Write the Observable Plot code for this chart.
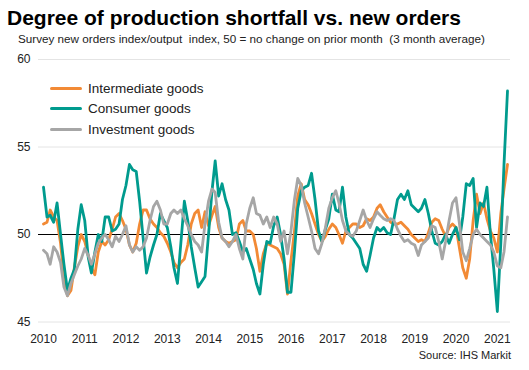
<!DOCTYPE html>
<html><head><meta charset="utf-8">
<script src="https://cdn.jsdelivr.net/npm/d3@7"></script>
<script src="https://cdn.jsdelivr.net/npm/@observablehq/plot@0.6"></script>
<style>
body{margin:0;background:#fff;font-family:"Liberation Sans",Arial,sans-serif;}
#wrap{position:relative;width:529px;height:370px;overflow:hidden;background:#fff;}
#chart{position:absolute;left:0;top:0;}
.title{position:absolute;left:7px;top:7px;font-size:21px;line-height:1;font-weight:bold;color:#000;white-space:nowrap;}
.subtitle{position:absolute;left:18px;top:32.5px;font-size:11.7px;line-height:1;color:#222;white-space:nowrap;}
.legend{position:absolute;left:50px;top:78px;}
.legend .row{display:flex;align-items:center;height:20.5px;font-size:13.5px;color:#222;white-space:nowrap;}
.legend .sw{width:32px;height:3px;margin-right:6px;border-radius:1.5px;}
.source{position:absolute;right:18px;top:350px;font-size:11px;line-height:1;color:#222;white-space:nowrap;}
</style></head>
<body>
<div id="wrap">
  <div id="chart"></div>
  <div class="title">Degree of production shortfall vs. new orders</div>
  <div class="subtitle">Survey new orders index/output&nbsp; index, 50 = no change on prior month&nbsp; (3 month average)</div>
  <div class="legend" id="legend"></div>
  <div class="source">Source: IHS Markit</div>
</div>
<script>
const seriesNames = ["Intermediate goods", "Consumer goods", "Investment goods"];
const seriesColors = ["#F28A35", "#009B8E", "#A6A6A6"];
const yTicks = [45, 50, 55, 60];
const yearLabels = [2010,2011,2012,2013,2014,2015,2016,2017,2018,2019,2020,2021];

// Monthly, Jan 2010 – Apr 2021
const intermediate = [
 50.6,50.7,51.4,51.0,50.8,49.5,47.6,46.5,46.8,48.1,
 49.3,50.0,49.6,48.8,48.1,47.7,49.0,49.6,49.4,49.7,
 50.3,51.0,51.2,50.8,50.3,49.4,49.0,49.5,50.6,51.4,
 51.4,50.9,50.6,50.4,50.1,49.9,49.5,49.0,48.4,48.1,
 48.4,48.6,49.4,50.6,51.2,51.4,50.4,51.3,50.5,51.1,
 51.6,50.4,49.8,49.6,49.5,49.6,49.7,50.6,50.8,50.2,
 50.2,50.0,49.2,47.9,48.9,49.5,49.4,49.3,49.2,48.9,
 48.3,46.6,48.5,50.2,52.2,52.9,52.0,51.7,51.2,50.6,
 50.0,49.6,49.9,50.3,50.6,50.4,50.0,49.5,50.2,50.4,
 50.6,50.6,50.4,50.5,50.9,50.8,51.0,51.5,51.7,51.3,
 51.0,50.7,50.6,50.6,50.7,50.5,50.3,50.0,49.8,49.6,
 49.7,49.6,50.1,50.7,50.9,50.8,50.3,49.9,50.4,50.6,
 50.4,49.2,48.1,47.5,48.6,50.8,52.3,51.2,51.8,50.9,
 50.2,49.8,49.0,51.2,52.6,54.0
];
const consumer = [
 52.7,51.0,51.1,50.7,51.8,50.0,48.3,46.8,47.5,48.0,
 50.3,51.7,50.8,48.7,47.8,49.0,50.0,49.6,51.0,51.0,
 50.2,50.3,50.6,52.0,52.8,54.0,53.7,53.6,51.9,49.8,
 47.8,48.7,49.4,50.0,51.2,50.8,50.4,49.3,48.1,47.2,
 49.5,51.9,50.8,49.3,48.1,47.0,47.3,47.6,50.0,52.5,
 54.2,52.2,52.9,52.0,51.4,50.0,50.1,49.6,49.0,49.2,
 48.6,48.0,47.2,46.6,48.3,49.6,49.5,50.5,51.0,50.0,
 48.6,46.7,46.7,49.0,51.5,52.5,52.7,52.8,53.5,52.0,
 50.2,49.6,50.3,50.9,52.3,51.4,51.3,52.7,51.0,50.0,
 49.8,49.5,49.2,48.3,47.9,48.8,49.8,50.4,50.2,50.4,
 50.1,50.0,50.9,52.0,52.3,52.0,52.5,51.7,51.5,51.3,
 51.5,52.0,51.2,50.2,49.5,49.4,49.6,50.0,49.5,50.0,
 50.4,49.7,51.0,52.9,52.8,53.2,50.4,51.8,51.6,52.7,
 50.0,48.0,45.6,49.5,54.0,58.2
];
const investment = [
 49.1,48.9,48.3,49.3,49.0,48.4,47.0,46.5,47.2,47.7,
 48.2,48.6,49.2,48.8,48.3,48.9,49.5,49.8,50.0,49.7,
 49.3,49.9,49.6,50.0,50.5,49.4,49.0,49.3,49.1,49.3,
 49.8,50.8,51.6,51.9,51.4,50.6,50.6,51.2,51.4,51.2,
 51.4,50.9,50.5,50.0,49.6,49.4,49.0,50.6,51.9,52.6,
 52.4,50.7,49.8,49.6,49.3,49.6,50.0,49.2,48.6,50.6,
 51.5,52.1,51.2,51.1,50.6,51.0,50.4,51.0,50.6,49.6,
 50.2,48.9,50.2,52.0,53.2,52.8,51.8,51.0,50.2,49.2,
 48.9,49.5,50.4,51.5,52.1,52.5,51.8,50.8,50.2,50.0,
 49.9,50.2,50.8,51.4,50.8,50.4,50.9,51.3,51.1,50.9,
 50.8,50.9,50.8,50.3,49.9,49.6,49.7,49.5,49.4,48.8,
 49.4,49.6,49.8,50.5,50.4,49.6,48.6,49.6,50.8,51.8,
 52.1,50.6,49.0,48.5,49.2,50.0,50.3,50.0,49.8,49.6,
 49.4,49.0,48.2,48.1,49.0,51.0
];

const months = d3.utcMonth.range(new Date(Date.UTC(2010,0,1)), new Date(Date.UTC(2021,4,1)));
const allSeries = [intermediate, consumer, investment];
const rows = [];
allSeries.forEach((vals, si) => vals.forEach((v, i) => rows.push({date: months[i], value: v, series: seriesNames[si]})));

const chart = Plot.plot({
  width: 529,
  height: 370,
  marginTop: 59,
  marginBottom: 48.5,
  marginLeft: 38,
  marginRight: 19,
  style: {fontSize: "12px", fontFamily: "'Liberation Sans', Arial, sans-serif", color: "#222", background: "transparent"},
  x: {type: "utc", domain: [months[0], months[months.length-1]], insetLeft: 5, insetRight: 3,
      ticks: yearLabels.map(y => new Date(Date.UTC(y,0,1))), tickFormat: d3.utcFormat("%Y"),
      tickSize: 0, tickPadding: 12, label: null},
  y: {domain: [45, 60], ticks: yTicks, tickSize: 0, tickPadding: 8, label: null},
  color: {domain: seriesNames, range: seriesColors},
  marks: [
    Plot.ruleY([45, 55, 60], {stroke: "#e4e4e4", strokeWidth: 1}),
    Plot.ruleY([50], {stroke: "#000", strokeWidth: 1}),
    ...seriesNames.map(name => Plot.line(rows.filter(d => d.series === name), {
      x: "date", y: "value", stroke: "series", strokeWidth: 2.8, strokeLinejoin: "round", strokeLinecap: "round"
    }))
  ]
});
document.getElementById("chart").appendChild(chart);

const legend = document.getElementById("legend");
seriesNames.forEach((n, i) => {
  const row = document.createElement("div");
  row.className = "row";
  row.innerHTML = `<div class="sw" style="background:${seriesColors[i]}"></div><span>${n}</span>`;
  legend.appendChild(row);
});
</script>
</body></html>
